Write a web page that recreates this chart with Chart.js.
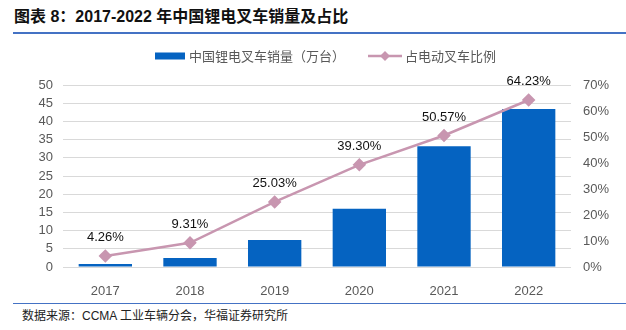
<!DOCTYPE html>
<html>
<head>
<meta charset="utf-8">
<script src="https://cdn.jsdelivr.net/npm/chart.js@4.4.0/dist/chart.umd.min.js"></script>
<style>
  body { margin: 0; background: #fff; font-family: "Liberation Sans", "Noto Sans CJK SC", sans-serif; }
  #wrap { position: relative; width: 626px; height: 330px; }
  #title { position: absolute; left: 14px; top: 3px; font-size: 16px; font-weight: bold; color: #111;
           font-family: "Liberation Sans", "Noto Sans CJK SC", sans-serif; }
  #topline { position: absolute; left: 13px; right: 0; top: 32px; height: 2px; background: #4472C4; }
  #bottomline { position: absolute; left: 13px; right: 0; top: 303px; height: 1px; background: #4472C4; }
  #source { position: absolute; left: 22px; top: 306px; font-size: 12px; color: #222; }
  #box { position: absolute; left: 0; top: 36px; width: 626px; height: 264px; }
</style>
</head>
<body>
<div id="wrap">
  <div id="title">图表 8：2017-2022 年中国锂电叉车销量及占比</div>
  <div id="topline"></div>
  <div id="box"><canvas id="chart"></canvas></div>
  <div id="bottomline"></div>
  <div id="source">数据来源：CCMA 工业车辆分会，华福证券研究所</div>
</div>
<script>
const years = ["2017", "2018", "2019", "2020", "2021", "2022"];
const sales = [0.8, 2.5, 7.4, 16.0, 33.2, 43.4];
const share = [4.26, 9.31, 25.03, 39.30, 50.57, 64.23];
const seriesNames = ["中国锂电叉车销量（万台）", "占电动叉车比例"];

const barColor = "#0563C1";
const lineColor = "#C896B0";

// percentage labels above the line points
const shareLabels = {
  id: "shareLabels",
  afterDatasetsDraw(chart) {
    const ctx = chart.ctx;
    const meta = chart.getDatasetMeta(1);
    ctx.save();
    ctx.font = "13px 'Liberation Sans', sans-serif";
    ctx.fillStyle = "#111";
    ctx.textAlign = "center";
    ctx.textBaseline = "bottom";
    meta.data.forEach(function (pt, i) {
      ctx.fillText(share[i].toFixed(2) + "%", pt.x, pt.y - 12);
    });
    ctx.restore();
  }
};

// legend: bar swatch, then a line with a diamond in the middle
const customLegend = {
  id: "customLegend",
  afterDraw(chart) {
    const ctx = chart.ctx;
    const y = 20;
    ctx.save();
    ctx.font = "13px 'Noto Sans CJK SC', sans-serif";
    ctx.textBaseline = "middle";

    ctx.fillStyle = barColor;
    ctx.fillRect(155, y - 3.5, 30, 7);
    ctx.fillStyle = "#595959";
    ctx.fillText(seriesNames[0], 189, y);

    ctx.strokeStyle = lineColor;
    ctx.lineWidth = 2.5;
    ctx.beginPath();
    ctx.moveTo(368, y);
    ctx.lineTo(402, y);
    ctx.stroke();
    ctx.fillStyle = lineColor;
    ctx.beginPath();
    ctx.moveTo(385, y - 5);
    ctx.lineTo(390, y);
    ctx.lineTo(385, y + 5);
    ctx.lineTo(380, y);
    ctx.closePath();
    ctx.fill();
    ctx.fillStyle = "#595959";
    ctx.fillText(seriesNames[1], 405, y);
    ctx.restore();
  }
};

new Chart(document.getElementById("chart"), {
  data: {
    labels: years,
    datasets: [
      {
        type: "bar",
        label: seriesNames[0],
        data: sales,
        backgroundColor: barColor,
        yAxisID: "y",
        barPercentage: 0.63,
        categoryPercentage: 1,
        order: 2
      },
      {
        type: "line",
        label: seriesNames[1],
        data: share,
        borderColor: lineColor,
        backgroundColor: lineColor,
        borderWidth: 2.5,
        pointStyle: "rectRot",
        pointRadius: 5,
        pointHoverRadius: 5,
        yAxisID: "y1",
        order: 1
      }
    ]
  },
  options: {
    responsive: true,
    maintainAspectRatio: false,
    animation: false,
    layout: { padding: { left: 14, right: 8, top: 49, bottom: 0 } },
    plugins: {
      tooltip: { enabled: false },
      legend: { display: false }
    },
    scales: {
      x: {
        grid: { display: false },
        border: { display: false },
        ticks: { color: "#595959", font: { size: 13 }, padding: 9 },
        afterFit(scale) { scale.height = 33; }
      },
      y: {
        position: "left",
        min: 0, max: 50,
        ticks: { stepSize: 5, autoSkip: false, color: "#595959", font: { size: 13 }, padding: 10 },
        grid: { color: "#D9D9D9", lineWidth: 1, drawTicks: false },
        border: { display: false },
        afterFit(scale) { scale.width = 49; }
      },
      y1: {
        position: "right",
        min: 0, max: 70,
        ticks: { stepSize: 10, autoSkip: false, color: "#595959", font: { size: 13 }, padding: 12,
                 callback: function (v) { return v + "%"; } },
        grid: { display: false, drawTicks: false },
        border: { display: false },
        afterFit(scale) { scale.width = 47; }
      }
    }
  },
  plugins: [shareLabels, customLegend]
});
</script>
</body>
</html>
